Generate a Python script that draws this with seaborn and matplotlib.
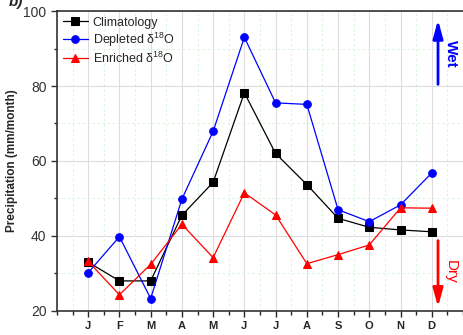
import numpy as np
import pandas as pd
import seaborn as sns
import matplotlib.pyplot as plt
from matplotlib.ticker import MultipleLocator

# monthly precipitation
months = ['J', 'F', 'M', 'A', 'M', 'J', 'J', 'A', 'S', 'O', 'N', 'D']
climatology = [33.0, 28.0, 28.0, 45.5, 54.3, 78.2, 62.0, 53.7, 44.7, 42.3, 41.6, 41.1]
depleted = [30.2, 39.8, 23.3, 49.8, 67.9, 93.0, 75.5, 75.1, 47.0, 43.8, 48.3, 56.8]
enriched = [33.2, 24.3, 32.4, 43.1, 34.2, 51.5, 45.6, 32.6, 35.0, 37.6, 47.5, 47.4]

month_num = np.arange(1, 13)
df = pd.DataFrame({'month': np.tile(month_num, 3),
                   'precip': climatology + depleted + enriched,
                   'series': ['Climatology'] * 12 + ['Depleted δ$^{18}$O'] * 12
                             + ['Enriched δ$^{18}$O'] * 12})

sns.set_style('ticks')
plt.rcParams['font.family'] = ['Liberation Sans', 'DejaVu Sans']
plt.rcParams['mathtext.fontset'] = 'custom'
plt.rcParams['mathtext.rm'] = 'Liberation Sans'

fig = plt.figure(figsize=(4.63, 3.35), dpi=100)
ax = fig.add_axes([0.123, 0.072, 0.877, 0.895])

# grid: grey majors, faint green dashed minors
ax.set_xlim(0, 13)
ax.set_ylim(20, 100)
ax.xaxis.set_major_locator(MultipleLocator(1))
ax.xaxis.set_minor_locator(MultipleLocator(0.5))
ax.yaxis.set_major_locator(MultipleLocator(20))
ax.yaxis.set_minor_locator(MultipleLocator(10))
ax.grid(which='major', color='#dddddd', lw=0.8)
ax.grid(which='minor', color='#d4f4d4', lw=0.6, ls=(0, (3, 3)))
ax.set_axisbelow(True)

palette = {'Climatology': 'black', 'Depleted δ$^{18}$O': 'blue',
           'Enriched δ$^{18}$O': 'red'}
markers = {'Climatology': 's', 'Depleted δ$^{18}$O': 'o',
           'Enriched δ$^{18}$O': '^'}
for name, grp in df.groupby('series', sort=False):
    sns.lineplot(data=grp, x='month', y='precip', ax=ax, color=palette[name],
                 marker=markers[name], markersize=5.5, markeredgecolor=palette[name],
                 lw=0.9, alpha=1, label=name)

ax.set_xticks(month_num)
ax.set_xticklabels(months, fontweight='bold', fontsize=8)
ax.set_xlabel('')
ax.set_ylabel('Precipitation (mm/month)', fontweight='bold', fontsize=8.5, labelpad=4)
ax.tick_params(axis='y', labelsize=10, colors='#333333')
ax.tick_params(which='major', direction='out', length=4, width=1)
ax.tick_params(which='minor', direction='out', length=2.5, width=1)
ax.tick_params(axis='x', which='minor', length=3)
ax.spines['right'].set_visible(False)
for s in ['left', 'bottom', 'top']:
    ax.spines[s].set_linewidth(1.2)
    ax.spines[s].set_color('#333333')

leg = ax.legend(loc='upper left', frameon=False, fontsize=9, handlelength=2,
                borderaxespad=0.25, labelspacing=0.15, handletextpad=0.4,
                borderpad=0.2)

# wet / dry arrows
ax.annotate('', xy=(12.2, 98.4), xytext=(12.2, 79.7),
            arrowprops=dict(arrowstyle='-|>,head_width=0.3,head_length=1.1',
                            color='blue', lw=2))
ax.text(12.6, 88.5, 'Wet', color='blue', rotation=-90, fontsize=11,
        fontweight='bold', ha='center', va='center')
ax.annotate('', xy=(12.2, 20.3), xytext=(12.2, 39.5),
            arrowprops=dict(arrowstyle='-|>,head_width=0.3,head_length=1.1',
                            color='red', lw=2))
ax.text(12.6, 30.4, 'Dry', color='red', rotation=-90, fontsize=11,
        ha='center', va='center')

fig.text(0.035, 0.993, 'b)', fontsize=11, fontweight='bold', style='italic',
         ha='center', va='center')

fig.savefig('out.png', dpi=100)
